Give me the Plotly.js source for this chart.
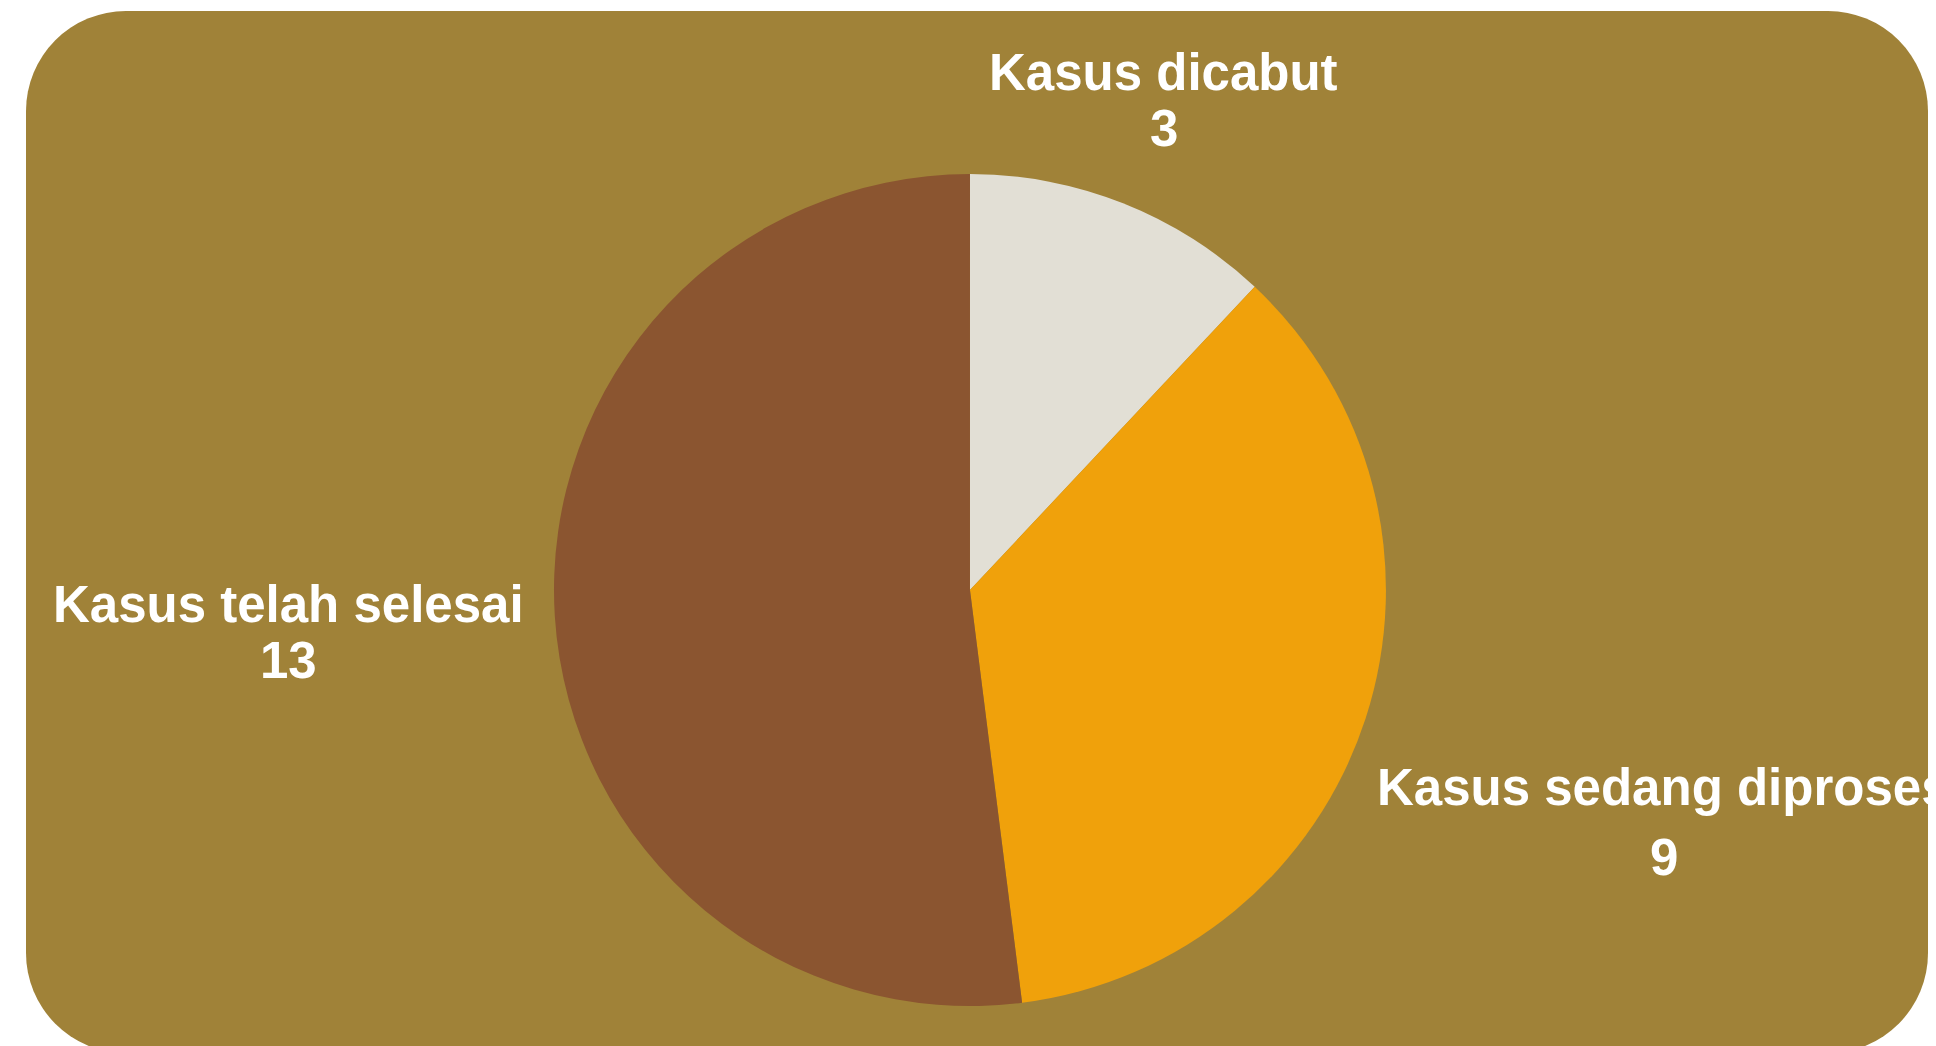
<!DOCTYPE html>
<html>
<head>
<meta charset="utf-8">
<script src="https://cdn.plot.ly/plotly-3.0.1.min.js"></script>
<style>
  html, body { margin: 0; padding: 0; background: #ffffff; width: 1936px; height: 1046px; overflow: hidden; }
  #card { position: absolute; left: 26px; top: 11px; width: 1902px; height: 1042px; border-radius: 100px; background: #A08238; overflow: hidden; }
  #chart { position: absolute; left: 0; top: 0; width: 1902px; height: 1035px; }
</style>
</head>
<body>
<div id="card"><div id="chart"></div></div>
<script>
const categories = ["Kasus dicabut", "Kasus sedang diproses", "Kasus telah selesai"];
const values = [3, 9, 13];
const colors = ["#E2DFD5", "#F0A10B", "#8B5530"];

const W = 1902, H = 1035;
const domX = [0.2776, 0.7150], domY = [0.0386, 0.8425];
const FONT_FAMILY = "Liberation Sans, Arial, sans-serif";
const FONT_SIZE = 51;
const LINE_GAP = 56;     // px between the two text lines
const LABEL_GAP = 30;    // px between pie edge and label box

// pie geometry from the domain
const cx = (domX[0] + domX[1]) / 2 * W;
const cy = (1 - (domY[0] + domY[1]) / 2) * H;
const R = Math.min((domX[1] - domX[0]) * W, (domY[1] - domY[0]) * H) / 2;

const ctx = document.createElement("canvas").getContext("2d");
ctx.font = "bold " + FONT_SIZE + "px " + FONT_FAMILY;

function boxDist(bx, by, hw, hh) {
  const dx = Math.max(Math.abs(bx) - hw, 0);
  const dy = Math.max(Math.abs(by) - hh, 0);
  return Math.hypot(dx, dy);
}

const total = values.reduce((a, b) => a + b, 0);
const annotations = [];
let cum = 0;
values.forEach((v, i) => {
  const mid = (cum + v / 2) / total * 2 * Math.PI; // clockwise from 12 o'clock
  cum += v;
  const ux = Math.sin(mid), uy = -Math.cos(mid);
  const hw = ctx.measureText(categories[i]).width / 2;
  const hh = 44;
  let lo = 0, hi = 2000;
  for (let k = 0; k < 60; k++) {
    const m = (lo + hi) / 2;
    if (boxDist(m * ux, m * uy, hw, hh) < R + LABEL_GAP) lo = m; else hi = m;
  }
  const px = cx + hi * ux, py = cy + hi * uy;
  const extra = /[gjpqy]/.test(categories[i]) ? 14 : 0; // descender line box
  const font = { color: "#ffffff", size: FONT_SIZE, family: FONT_FAMILY };
  annotations.push({
    xref: "paper", yref: "paper", x: px / W, y: 1 - (py - LINE_GAP / 2) / H,
    xanchor: "center", yanchor: "middle", showarrow: false,
    text: "<b>" + categories[i] + "</b>", font: font
  });
  annotations.push({
    xref: "paper", yref: "paper", x: px / W, y: 1 - (py + LINE_GAP / 2 + extra) / H,
    xanchor: "center", yanchor: "middle", showarrow: false,
    text: "<b>" + values[i] + "</b>", font: font
  });
});

Plotly.newPlot("chart", [{
  type: "pie",
  labels: categories,
  values: values,
  sort: false,
  direction: "clockwise",
  rotation: 0,
  marker: { colors: colors, line: { width: 0 } },
  textinfo: "none",
  hoverinfo: "none",
  domain: { x: domX, y: domY }
}], {
  width: W,
  height: H,
  margin: { l: 0, r: 0, t: 0, b: 0 },
  paper_bgcolor: "rgba(0,0,0,0)",
  plot_bgcolor: "rgba(0,0,0,0)",
  showlegend: false,
  annotations: annotations
}, { displayModeBar: false, staticPlot: true });
</script>
</body>
</html>
